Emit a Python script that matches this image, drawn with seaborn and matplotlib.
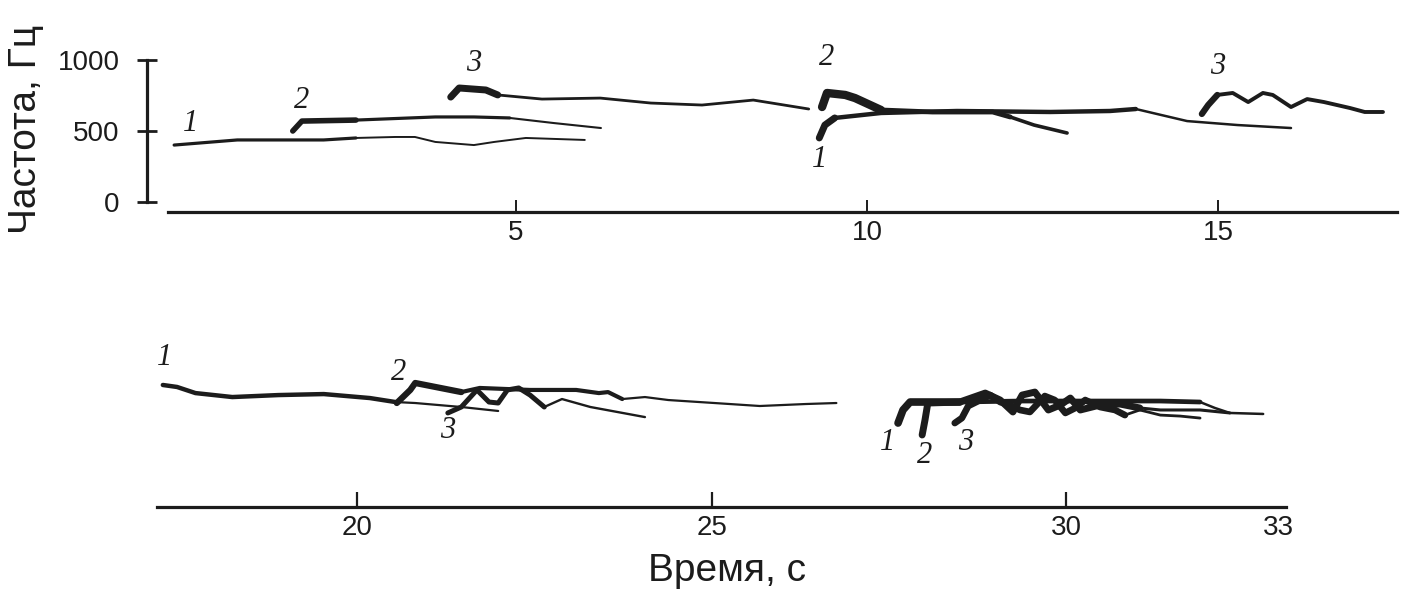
import matplotlib
matplotlib.use("Agg")
import matplotlib.pyplot as plt
import seaborn as sns

# ---- top row (0-17.5 s), frequency in Hz ----
# group 1, caller 1/2/3
t_a1 = [0.13, 1.03, 2.26, 2.72, 3.28, 3.56, 3.85, 4.40, 4.69, 5.14, 5.98]
f_a1 = [401, 437, 437, 451, 458, 458, 423, 401, 423, 451, 437]
t_a2 = [1.82, 1.95, 2.72, 3.85, 4.40, 4.91, 5.54, 6.21]
f_a2 = [500, 570, 577, 599, 599, 592, 556, 521]
t_a3 = [4.07, 4.19, 4.57, 4.74, 5.37, 6.20, 6.92, 7.65, 8.38, 9.17]
f_a3 = [739, 803, 789, 754, 725, 732, 697, 683, 718, 655]
# group 2
t_b2 = [9.36, 9.43, 9.69, 9.83, 10.20, 10.93, 11.79, 12.04, 12.38, 12.85]
f_b2 = [669, 768, 754, 732, 648, 634, 634, 599, 542, 486]
t_b1 = [9.32, 9.40, 9.54, 10.20, 11.28, 12.61, 13.46, 13.83, 14.19, 14.56, 15.28, 16.04]
f_b1 = [451, 542, 592, 627, 641, 634, 641, 655, 613, 570, 542, 521]
t_b3 = [14.77, 14.86, 14.99, 15.21, 15.43, 15.64, 15.78, 16.04, 16.27, 16.51, 16.88, 17.09, 17.35]
f_b3 = [620, 683, 754, 768, 704, 768, 754, 669, 725, 704, 662, 634, 634]

# ---- bottom row (17-33 s) ----
t_c1 = [17.26, 17.46, 17.72, 18.24, 18.89, 19.53, 20.18, 20.54, 20.82, 21.47, 21.99]
f_c1 = [789, 775, 732, 704, 718, 725, 697, 669, 662, 634, 606]
t_c2 = [20.56, 20.75, 20.82, 21.47, 21.73, 22.44, 23.09, 23.41, 23.54, 23.74,
        24.06, 24.39, 25.04, 25.68, 26.33, 26.76]
f_c2 = [662, 754, 803, 739, 768, 754, 754, 732, 739, 690,
        704, 683, 662, 641, 655, 662]
t_c3 = [21.28, 21.47, 21.69, 21.86, 21.99, 22.12, 22.28, 22.44, 22.64, 22.89, 23.29, 24.06]
f_c3 = [592, 634, 754, 669, 662, 754, 768, 718, 634, 690, 634, 563]
t_d1 = [27.63, 27.70, 27.80, 28.50, 29.35, 30.48, 31.33, 31.89, 32.10, 32.31, 32.78]
f_d1 = [521, 613, 669, 669, 676, 676, 676, 669, 627, 592, 585]
t_d2 = [27.97, 28.01, 28.05, 28.50, 28.86, 29.07, 29.25, 29.38, 29.56, 29.75,
        29.92, 30.06, 30.20, 30.48, 30.76, 31.04, 31.33, 31.89, 32.31]
f_d2 = [437, 542, 662, 669, 732, 683, 599, 718, 739, 613,
        648, 697, 613, 648, 655, 627, 613, 613, 592]
t_d3 = [28.43, 28.53, 28.62, 28.79, 28.93, 29.07, 29.21, 29.35, 29.49, 29.70, 29.84,
        29.99, 30.13, 30.27, 30.48, 30.69, 30.83, 31.04, 31.33, 31.61, 31.89]
f_d3 = [521, 556, 641, 683, 718, 669, 648, 613, 599, 711, 683,
        592, 627, 683, 634, 613, 577, 613, 577, 570, 556]

# caller numbers: (text, time, freq)
labels_top = [("1", 0.36, 556), ("2", 1.94, 718), ("3", 4.40, 979),
              ("2", 9.43, 1021), ("1", 9.32, 296), ("3", 14.99, 951)]
labels_bottom = [("1", 17.29, 979), ("2", 20.59, 880), ("3", 21.28, 472),
                 ("1", 27.48, 387), ("2", 28.01, 296), ("3", 28.58, 387)]

ticks_top = [5, 10, 15]
ticks_bottom = [20, 25, 30, 33]
yticks_top = [0, 500, 1000]

ink = "#1c1c1c"
sns.set_theme(style="white")
plt.rcParams["font.family"] = ["Liberation Sans", "DejaVu Sans"]

fig = plt.figure(figsize=(14.07, 6.0), dpi=100)
ax_top = fig.add_axes([0.1048, 0.6468, 0.8881, 0.2768])
ax_bot = fig.add_axes([0.1117, 0.155, 0.8022, 0.277])

# (axes, t, f, [(start, stop, linewidth)])
traces = [
    (ax_top, t_a1, f_a1, [(0, 4, 2.3), (3, 11, 1.4)]),
    (ax_top, t_a2, f_a2, [(0, 3, 4.0), (2, 6, 2.3), (5, 8, 1.5)]),
    (ax_top, t_a3, f_a3, [(0, 4, 5.0), (3, 10, 2.0)]),
    (ax_top, t_b2, f_b2, [(0, 5, 6.0), (4, 8, 3.5), (7, 10, 2.6)]),
    (ax_top, t_b1, f_b1, [(0, 3, 5.0), (2, 8, 3.2), (7, 12, 1.8)]),
    (ax_top, t_b3, f_b3, [(0, 3, 4.5), (2, 13, 2.8)]),
    (ax_bot, t_c1, f_c1, [(0, 8, 3.2), (7, 11, 1.6)]),
    (ax_bot, t_c2, f_c2, [(0, 4, 4.5), (3, 10, 3.0), (9, 16, 1.6)]),
    (ax_bot, t_c3, f_c3, [(0, 9, 3.6), (8, 12, 1.7)]),
    (ax_bot, t_d1, f_d1, [(0, 4, 5.5), (3, 8, 3.4), (7, 11, 1.8)]),
    (ax_bot, t_d2, f_d2, [(0, 16, 5.0), (15, 19, 2.2)]),
    (ax_bot, t_d3, f_d3, [(0, 17, 4.8), (16, 21, 2.0)]),
]

for ax, t, f, segs in traces:
    for i0, i1, lw in segs:
        sns.lineplot(x=t[i0:i1], y=f[i0:i1], ax=ax, color=ink, lw=lw,
                     sort=False, estimator=None, legend=False,
                     solid_capstyle="round", solid_joinstyle="round")

for ax, labs in [(ax_top, labels_top), (ax_bot, labels_bottom)]:
    for txt, t, f in labs:
        ax.text(t, f, txt, family=["Liberation Serif"], style="italic",
                fontsize=22, color=ink, ha="center", va="center")

# top panel axes
ax_top.set_xlim(-0.25, 17.55)
ax_top.set_ylim(-70, 1100)
ax_top.set_xticks(ticks_top)
ax_top.set_yticks(yticks_top)
ax_top.spines["left"].set_bounds(0, 1000)
ax_top.spines["bottom"].set_bounds(0.04, 17.55)
for s in ["top", "right"]:
    ax_top.spines[s].set_visible(False)
ax_top.spines["left"].set_linewidth(2.3)
ax_top.spines["bottom"].set_linewidth(2.3)
ax_top.spines["left"].set_color(ink)
ax_top.spines["bottom"].set_color(ink)
ax_top.tick_params(axis="x", direction="in", length=9, width=1.4, pad=6,
                   labelsize=20, colors=ink, bottom=True)
ax_top.tick_params(axis="y", direction="inout", length=14, width=2.0, pad=13,
                   labelsize=20, colors=ink, left=True)
ax_top.set_xlabel("")
ax_top.set_ylabel("")

# bottom panel axes
ax_bot.set_xlim(17.18, 33.1)
ax_bot.set_ylim(-70, 1100)
ax_bot.set_xticks(ticks_bottom)
ax_bot.set_yticks([])
for s in ["top", "right", "left"]:
    ax_bot.spines[s].set_visible(False)
ax_bot.spines["bottom"].set_linewidth(2.3)
ax_bot.spines["bottom"].set_color(ink)
ax_bot.tick_params(axis="x", direction="in", length=11, width=1.6, pad=6,
                   labelsize=20, colors=ink, bottom=True)
ax_bot.xaxis.get_major_ticks()[3].tick1line.set_visible(False)
ax_bot.set_xlabel("")
ax_bot.set_ylabel("")

fig.text(0.0185, 0.785, "Частота, Гц", rotation=90, fontsize=28,
         color=ink, ha="center", va="center")
fig.text(0.517, 0.048, "Время, с", fontsize=28, color=ink,
         ha="center", va="center")

fig.savefig("out.png", dpi=100, facecolor="white")
